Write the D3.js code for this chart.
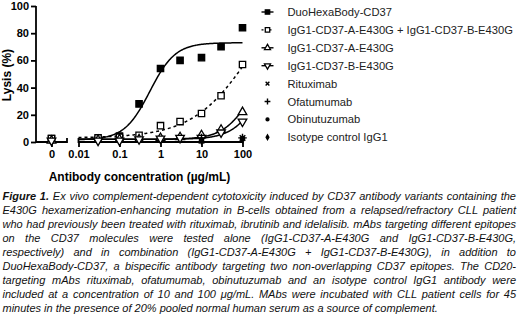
<!DOCTYPE html>
<html>
<head>
<meta charset="utf-8">
<script src="https://cdn.jsdelivr.net/npm/d3@7"></script>
<style>
    body { margin: 0; background: #fff; }
    svg { display: block; font-family: "Liberation Sans", Arial, sans-serif; }
</style>
</head>
<body>
<svg id="chart" width="520" height="325"></svg>
<script>
// ---------------------------------------------------------------
// data (lysis %)
const concentrations = [0, 0.03, 0.1, 0.3, 1, 3, 10, 30, 100]
const duoHexaBody = [2.5, 2, 4.4, 28, 54, 60, 62, 70, 84]
const combination = [2.5, 3, 3.5, 5, 12, 15, 21, 34, 57]
const cd37A = [1, 1.5, 2, 2, 3, 3.5, 5, 9, 22]
const cd37B = [1, 1, 1, 2, 2.5, 3, 3, 7, 15]

const cd20Conc = [10, 100]
const rituximab = [1, 3]
const ofatumumab = [3, 3]
const obinutuzumab = [1.5, 2.5]
const isotype = [1, 2]

// four-parameter logistic fits (bottom, top, EC50, hill) per CD37 series
const fitBottom = [1.5, 3, 2, 2]
const fitTop = [73, 130, 60, 60]
const fitEC50 = [0.55, 180, 150, 250]
const fitHill = [1.4, 0.6, 1.3, 1.3]

const yTicks = [0, 20, 40, 60, 80, 100]
const xTicks = [0.01, 0.1, 1, 10, 100]

const legendLabels = ['DuoHexaBody-CD37', 'IgG1-CD37-A-E430G + IgG1-CD37-B-E430G',
    'IgG1-CD37-A-E430G', 'IgG1-CD37-B-E430G', 'Rituximab', 'Ofatumumab',
    'Obinutuzumab', 'Isotype control IgG1']

const caption = [
    'Ex vivo complement-dependent cytotoxicity induced by CD37 antibody variants containing the',
    'E430G hexamerization-enhancing mutation in B-cells obtained from a relapsed/refractory CLL patient',
    'who had previously been treated with rituximab, ibrutinib and idelalisib. mAbs targeting different epitopes',
    'on the CD37 molecules were tested alone (IgG1-CD37-A-E430G and IgG1-CD37-B-E430G,',
    'respectively) and in combination (IgG1-CD37-A-E430G + IgG1-CD37-B-E430G), in addition to',
    'DuoHexaBody-CD37, a bispecific antibody targeting two non-overlapping CD37 epitopes. The CD20-',
    'targeting mAbs rituximab, ofatumumab, obinutuzumab and an isotype control IgG1 antibody were',
    'included at a concentration of 10 and 100 \u03bcg/mL. MAbs were incubated with CLL patient cells for 45',
    'minutes in the presence of 20% pooled normal human serum as a source of complement.'
]

// ---------------------------------------------------------------
const svg = d3.select('#chart')

const y = d3.scaleLinear().domain([0, 100]).range([142, 6])
const x = d3.scaleLog().domain([0.01, 100]).range([78.5, 242.5])
const xZero = d3.scalePoint().domain([0]).range([36, 67]).padding(0.5)

const cd37Series = [
    {values: duoHexaBody, shape: 'square', fill: '#000', dash: null},
    {values: combination, shape: 'square', fill: '#fff', dash: '3,3'},
    {values: cd37A, shape: 'up', fill: '#fff', dash: null},
    {values: cd37B, shape: 'down', fill: '#fff', dash: null}
]
const cd20Series = [
    {values: rituximab, shape: 'times', fill: '#000'},
    {values: ofatumumab, shape: 'plus', fill: '#000'},
    {values: obinutuzumab, shape: 'circle', fill: '#000'},
    {values: isotype, shape: 'diamond', fill: '#000'}
]

// scale = 1 for plot markers, smaller for legend
function drawMarker(sel, shape, fill, scale) {
    const sizes = {square: 40, up: 32, down: 32, times: 22, plus: 26, circle: 14, diamond: 14}
    const types = {square: d3.symbolSquare, up: d3.symbolTriangle, down: d3.symbolTriangle,
        times: d3.symbolTimes, plus: d3.symbolPlus, circle: d3.symbolCircle, diamond: d3.symbolDiamond}
    const stroked = shape == 'times' || shape == 'plus'
    sel.append('path')
        .attr('d', d3.symbol(types[shape], sizes[shape] * scale * scale)())
        .attr('transform', shape == 'down' ? 'rotate(180)' : null)
        .attr('fill', stroked ? 'none' : fill)
        .attr('stroke', '#000')
        .attr('stroke-width', stroked ? 1.4 : 1.3)
}

// ---------------------------------------------------------------
// axes
const yAxis = svg.append('g')
    .attr('transform', 'translate(36,0)')
    .call(d3.axisLeft(y).tickValues(yTicks).tickSize(5).tickSizeOuter(0))
yAxis.select('.domain').attr('d', `M0,${y(100)}V${y(0)}`)

const xAxis = svg.append('g')
    .attr('transform', `translate(0,${y(0)})`)
    .call(d3.axisBottom(x).tickValues(xTicks).tickSize(5).tickSizeOuter(0)
        .tickFormat(d3.format('~g')))
xAxis.select('.domain').attr('d', `M${x(0.01)},-4V0H${x(100)}`)

const xAxisZero = svg.append('g')
    .attr('transform', `translate(0,${y(0)})`)
    .call(d3.axisBottom(xZero).tickSize(5).tickSizeOuter(0))
xAxisZero.select('.domain').attr('d', `M36,0H67V-4`)

svg.selectAll('.domain, .tick line')
    .attr('stroke', '#000')
    .attr('stroke-width', 1.8)
svg.selectAll('.tick text')
    .attr('fill', '#000')
    .style('font-size', '11px')
    .style('font-weight', 'bold')
yAxis.selectAll('.tick text').attr('x', -7)

svg.append('text')
    .attr('transform', `translate(11,${(y(0) + y(100)) / 2 + 1})rotate(-90)`)
    .attr('text-anchor', 'middle')
    .style('font-size', '12px')
    .style('font-weight', 'bold')
    .text('Lysis (%)')

svg.append('text')
    .attr('x', 139.5)
    .attr('y', 181)
    .attr('text-anchor', 'middle')
    .style('font-size', '12px')
    .style('font-weight', 'bold')
    .text('Antibody concentration (\u00b5g/mL)')

// ---------------------------------------------------------------
// fitted curves
const curveX = d3.range(0, 201).map(i => Math.pow(10, -2 + i * 4 / 200))
const line = d3.line().x(d => x(d[0])).y(d => y(d[1]))

cd37Series.forEach((s, k) => {
    const pts = curveX.map(c => [c, fitBottom[k] +
        (fitTop[k] - fitBottom[k]) / (1 + Math.pow(fitEC50[k] / c, fitHill[k]))])
    svg.append('path')
        .attr('d', line(pts))
        .attr('fill', 'none')
        .attr('stroke', '#000')
        .attr('stroke-width', 1.5)
        .attr('stroke-dasharray', s.dash)
})

// markers
const xPos = c => c == 0 ? xZero(0) : x(c)

cd37Series.forEach(s => {
    svg.append('g').selectAll('g')
        .data(concentrations.map((c, i) => [c, s.values[i]]))
        .enter()
            .append('g')
            .attr('transform', d => `translate(${xPos(d[0])},${y(d[1])})`)
            .call(sel => drawMarker(sel, s.shape, s.fill, 1))
})

cd20Series.forEach(s => {
    svg.append('g').selectAll('g')
        .data(cd20Conc.map((c, i) => [c, s.values[i]]))
        .enter()
            .append('g')
            .attr('transform', d => `translate(${x(d[0])},${y(d[1])})`)
            .call(sel => drawMarker(sel, s.shape, s.fill, 1))
})

// ---------------------------------------------------------------
// legend
const legendShapes = cd37Series.concat(cd20Series)
const legend = svg.append('g').attr('transform', 'translate(267.5,12)')

const rows = legend.selectAll('g.row')
    .data(legendLabels)
    .enter()
        .append('g')
        .attr('class', 'row')
        .attr('transform', (d, i) => `translate(0,${i * 17.9})`)

rows.filter((d, i) => i < 4)
    .append('line')
    .attr('x1', -6)
    .attr('x2', 6)
    .attr('stroke', '#000')
    .attr('stroke-width', 1.4)
    .attr('stroke-dasharray', (d, i) => i == 1 ? '2,2' : null)

rows.each(function(d, i) {
    const s = legendShapes[i]
    drawMarker(d3.select(this), s.shape, s.fill, 0.7)
})

rows.append('text')
    .attr('x', 20)
    .attr('y', 4)
    .attr('fill', '#222')
    .style('font-size', '11.2px')
    .text(d => d)

// ---------------------------------------------------------------
// caption, justified lines
const capLeft = 2.5, capRight = 516
const cap = svg.append('g').style('font-size', '11px').style('font-style', 'italic')
caption.forEach((txt, i) => {
    const t = cap.append('text')
        .attr('x', capLeft)
        .attr('y', 200 + i * 14)
        .attr('fill', '#111')
    if (i == 0) {
        t.append('tspan').style('font-weight', 'bold').text('Figure 1. ')
    }
    t.append('tspan').text(txt)
    if (i < caption.length - 1) {
        const w = t.node().getComputedTextLength()
        const gaps = (i == 0 ? 'Figure 1. ' + txt : txt).split(' ').length - 1
        t.style('word-spacing', `${(capRight - capLeft - w) / gaps}px`)
    }
})
</script>
</body>
</html>
